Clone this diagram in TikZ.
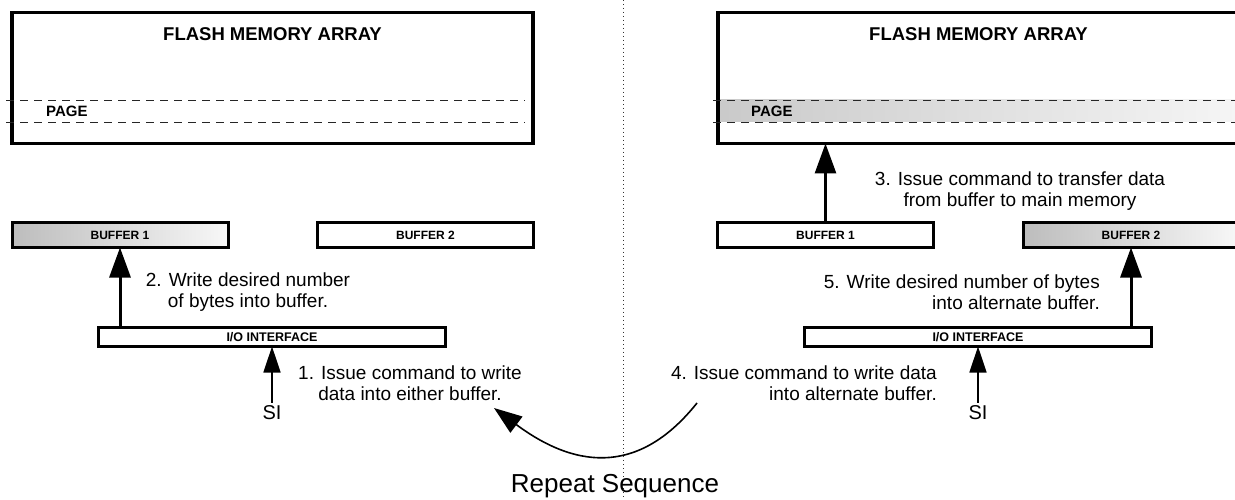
\documentclass[tikz,border=0pt]{standalone}
\usepackage{fontspec}
\setmainfont{Liberation Sans}
\usetikzlibrary{arrows.meta}
\definecolor{bufdark}{gray}{0.74}
\definecolor{buflight}{gray}{0.97}
\definecolor{banddark}{gray}{0.79}
\definecolor{bandlight}{gray}{0.96}
\begin{document}
\begin{tikzpicture}[x=1pt,y=-1pt,
  memarray/.style={draw, line width=3.5pt, minimum width=521pt, minimum height=131pt, inner sep=0pt, outer sep=0pt},
  arraytitle/.style={font=\fontsize{18.5}{20}\selectfont\bfseries, inner sep=0pt},
  pagelabel/.style={font=\fontsize{15}{16}\selectfont\bfseries, inner sep=0pt, anchor=west},
  pageline/.style={dash pattern=on 8pt off 6pt, line width=0.9pt, black!85},
  bufbox/.style={draw, line width=3pt, minimum width=216pt, minimum height=25pt, inner sep=0pt, outer sep=0pt, font=\fontsize{12}{14}\selectfont\bfseries},
  filledbuf/.style={bufbox, left color=bufdark, right color=buflight},
  iobox/.style={draw, line width=3pt, minimum width=347pt, minimum height=19pt, inner sep=0pt, outer sep=0pt, font=\fontsize{12.5}{14}\selectfont\bfseries},
  notetext/.style={font=\fontsize{19}{20.5}\selectfont, inner sep=0pt, align=center},
  noteright/.style={notetext, align=right, anchor=east},
  busarrow/.style={line width=3pt, -{Triangle[length=30pt,width=21pt]}},
  siarrow/.style={line width=1.5pt, -{Triangle[length=26pt,width=17pt]}},
  loopar/.style={line width=1.6pt, -{Triangle[length=28pt,width=20pt]}},
  siname/.style={font=\fontsize{20}{22}\selectfont, inner sep=0pt},
  bigcaption/.style={font=\fontsize{26}{28}\selectfont, inner sep=0pt},
]
\useasboundingbox (0,0) rectangle (1235,500);
\fill[white] (0,0) rectangle (1235,500);
\clip (0,0) rectangle (1235,500);

% separator between the two halves
\coordinate (sepTop) at (623,0);
\coordinate (sepBot) at (623,500);
\draw[line width=1pt, dash pattern=on 1.3pt off 2.7pt, black!80] (sepTop) -- (sepBot);

% ---------- left half ----------
\node[memarray] (arrL) at (272.5,78) {};
\node[arraytitle] (ttlL) at (272.5,34) {FLASH MEMORY ARRAY};
\coordinate (pgLa1) at (6,100);   \coordinate (pgLa2) at (525,100);
\coordinate (pgLb1) at (6,122);   \coordinate (pgLb2) at (525,122);
\draw[pageline] (pgLa1) -- (pgLa2);
\draw[pageline] (pgLb1) -- (pgLb2);
\node[pagelabel] (pgL) at (46,111) {PAGE};

\node[filledbuf] (bufL1) at (120,235) {BUFFER 1};
\node[bufbox] (bufL2) at (425.5,235) {BUFFER 2};
\node[iobox] (ioL) at (272,337) {I/O INTERFACE};

\draw[busarrow] (ioL.north -| bufL1.south) -- (bufL1.south);
\node[notetext] (t2) at (248,292) {2. Write desired number\\of bytes into buffer.};

\node[siname] (siL) at (272,413) {SI};
\draw[siarrow, shorten <=3pt] (siL) -- (ioL.south);
\node[notetext] (t1) at (410,383) {1. Issue command to write\\data into either buffer.};

% ---------- right half ----------
\node[minimum width=519pt, minimum height=22pt, inner sep=0pt, outer sep=0pt,
      left color=banddark, right color=bandlight] (bandR) at (975.5,111) {};
\node[memarray] (arrR) at (978.5,78) {};
\node[arraytitle] (ttlR) at (978.5,34) {FLASH MEMORY ARRAY};
\coordinate (pgRa1) at (713,100); \coordinate (pgRa2) at (1235,100);
\coordinate (pgRb1) at (713,122); \coordinate (pgRb2) at (1235,122);
\draw[pageline] (pgRa1) -- (pgRa2);
\draw[pageline] (pgRb1) -- (pgRb2);
\node[pagelabel] (pgR) at (751,111) {PAGE};

\node[bufbox] (bufR1) at (825.5,235) {BUFFER 1};
\node[filledbuf] (bufR2) at (1131,235) {BUFFER 2};
\node[iobox] (ioR) at (978,337) {I/O INTERFACE};

\draw[busarrow] (bufR1.north) -- (arrR.south -| bufR1.north);
\node[notetext] (t3) at (1020,191) {3. Issue command to transfer data\\from buffer to main memory};

\draw[busarrow] (ioR.north -| bufR2.south) -- (bufR2.south);
\node[noteright] (t5) at (1100,292) {5. Write desired number of bytes\\into alternate buffer.};

\node[siname] (siR) at (978,413) {SI};
\draw[siarrow, shorten <=3pt] (siR) -- (ioR.south);
\node[noteright] (t4) at (937,383) {4. Issue command to write data\\into alternate buffer.};

% ---------- loop back ----------
\coordinate (loopS) at (697,403);
\coordinate (loopE) at (494,408);
\draw[loopar] (loopS) .. controls (642,472) and (580,472) .. (loopE);
\node[bigcaption] (rep) at (615,486) {Repeat Sequence};
\end{tikzpicture}
\end{document}
